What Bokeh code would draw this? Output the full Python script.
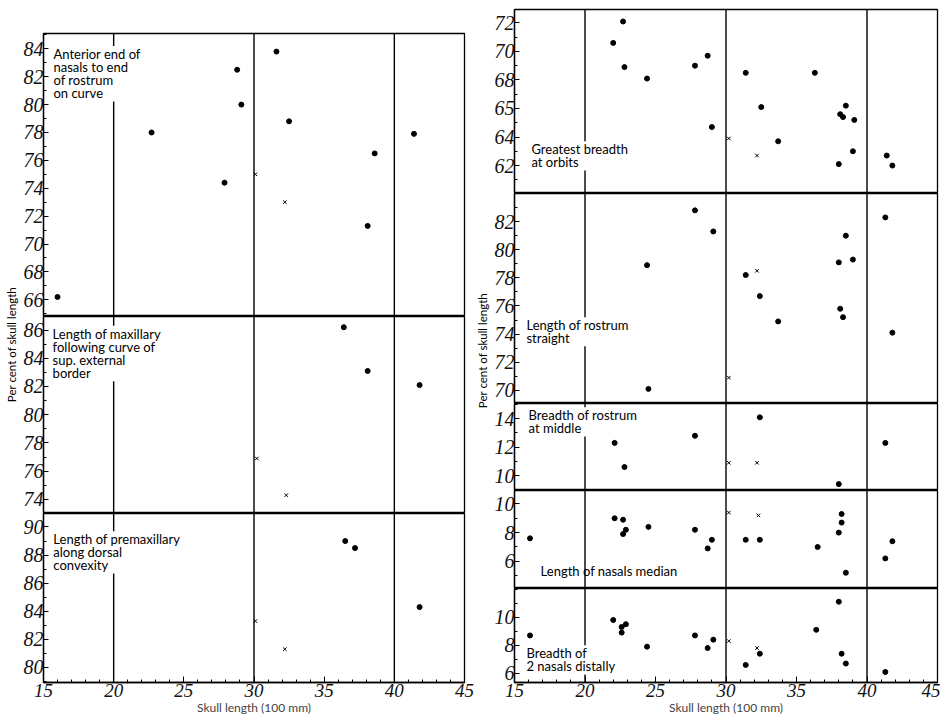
import math
from bokeh.plotting import figure
from bokeh.models import Range1d, FixedTicker, Span, Label
from bokeh.layouts import row, column
from bokeh.embed import file_html
from bokeh.resources import INLINE

# ---------------- data ----------------
L1_x = [16.0, 22.7, 27.9, 28.8, 29.1, 31.6, 32.5, 38.6, 38.1, 41.4]
L1_y = [66.2, 78.0, 74.4, 82.5, 80.0, 83.8, 78.8, 76.5, 71.3, 77.9]
L1_cx = [30.1, 32.2]
L1_cy = [75.0, 73.0]

L2_x = [36.4, 38.1, 41.8]
L2_y = [86.2, 83.1, 82.1]
L2_cx = [30.2, 32.3]
L2_cy = [76.9, 74.3]

L3_x = [36.5, 37.2, 41.8]
L3_y = [89.0, 88.5, 84.3]
L3_cx = [30.1, 32.2]
L3_cy = [83.3, 81.3]

R1_x = [22.0, 22.7, 22.8, 24.4, 27.8, 28.7, 29.0, 31.4, 32.5, 33.7, 36.3,
        38.1, 38.3, 38.5, 39.1, 38.0, 39.0, 41.4, 41.8]
R1_y = [70.6, 72.1, 68.9, 68.1, 69.0, 69.7, 64.7, 68.5, 66.1, 63.7, 68.5,
        65.6, 65.4, 66.2, 65.2, 62.1, 63.0, 62.7, 62.0]
R1_cx = [30.2, 32.2]
R1_cy = [63.9, 62.7]

R2_x = [27.8, 29.1, 24.4, 31.4, 32.4, 33.7, 38.0, 38.5, 39.0, 38.1, 38.3, 41.3, 41.8, 24.5]
R2_y = [82.8, 81.3, 78.9, 78.2, 76.7, 74.9, 79.1, 81.0, 79.3, 75.8, 75.2, 82.3, 74.1, 70.1]
R2_cx = [32.2, 30.2]
R2_cy = [78.5, 70.9]

R3_x = [22.1, 22.8, 27.8, 32.4, 38.0, 41.3]
R3_y = [12.3, 10.6, 12.8, 14.1, 9.4, 12.3]
R3_cx = [30.2, 32.2]
R3_cy = [10.9, 10.9]

R4_x = [16.1, 22.1, 22.7, 22.9, 22.7, 24.5, 27.8, 29.0, 28.7, 31.4, 32.4,
        36.5, 38.2, 38.2, 38.0, 38.5, 41.8, 41.3]
R4_y = [7.6, 9.0, 8.9, 8.2, 7.9, 8.4, 8.2, 7.5, 6.9, 7.5, 7.5,
        7.0, 9.3, 8.7, 8.0, 5.2, 7.4, 6.2]
R4_cx = [30.2, 32.3]
R4_cy = [9.4, 9.2]

R5_x = [16.1, 22.0, 22.6, 22.6, 22.9, 24.4, 27.8, 28.7, 29.1, 31.4, 32.4,
        36.4, 38.0, 38.2, 38.5, 41.3]
R5_y = [8.7, 9.8, 9.3, 8.9, 9.5, 7.9, 8.7, 7.8, 8.4, 6.6, 7.4,
        9.1, 11.1, 7.4, 6.7, 6.1]
R5_cx = [30.2, 32.2]
R5_cy = [8.3, 7.8]

x_ticks = [15, 20, 25, 30, 35, 40, 45]
x_minor = list(range(15, 46))
divisions = [20, 30, 40]

L1_ticks = [66, 68, 70, 72, 74, 76, 78, 80, 82, 84]
L2_ticks = [74, 76, 78, 80, 82, 84, 86]
L3_ticks = [80, 82, 84, 86, 88, 90]
R1_ticks = [62, 64, 66, 68, 70, 72]
R1_labels = {66: "65"}
R2_ticks = [70, 72, 74, 76, 78, 80, 82]
R3_ticks = [10, 12, 14]
R4_ticks = [6, 8, 10]
R5_ticks = [6, 8, 10]

ylabel = "Per cent of skull length"
xlabel = "Skull length (100 mm)"

L1_text = "Anterior end of\nnasals to end\nof rostrum\non curve"
L2_text = "Length of maxillary\nfollowing curve of\n sup. external\nborder"
L3_text = "Length of premaxillary\nalong dorsal\nconvexity"
R1_text = "Greatest breadth\nat orbits"
R2_text = "Length of rostrum\nstraight"
R3_text = "Breadth of rostrum\nat middle"
R4_text = "Length of nasals median"
R5_text = "Breadth of\n2 nasals distally"

TICK_FONT = "Liberation Serif"
TEXT_FONT = "Lato"


def panel(xr, yr, width, height, ticks, mbl, mbr, mbt=0, mbb=0,
          xaxis=False, overrides=None):
    p = figure(width=width, height=height, x_range=xr,
               y_range=Range1d(yr[0], yr[1]), toolbar_location=None,
               output_backend="svg",
               min_border_left=mbl, min_border_right=mbr,
               min_border_top=mbt, min_border_bottom=mbb,
               x_axis_location="below" if xaxis else None)
    p.grid.visible = False
    p.background_fill_color = "white"
    p.border_fill_color = "white"
    p.outline_line_color = "black"
    p.outline_line_width = 1.3
    lo, hi = math.floor(yr[0]), math.ceil(yr[1])
    minor = [v for v in range(lo, hi + 1) if yr[0] < v < yr[1]]
    ax = p.yaxis[0]
    ax.ticker = FixedTicker(ticks=ticks, minor_ticks=minor)
    ax.major_tick_in = 5
    ax.major_tick_out = 0
    ax.minor_tick_in = 3
    ax.minor_tick_out = 0
    ax.axis_line_width = 1.3
    ax.major_tick_line_width = 1.2
    ax.major_label_standoff = 0
    ax.major_label_text_font = TICK_FONT
    ax.major_label_text_font_style = "italic"
    ax.major_label_text_font_size = "20px"
    ax.major_label_text_color = "#111111"
    if overrides:
        ax.major_label_overrides = overrides
    if xaxis:
        xa = p.xaxis[0]
        xa.ticker = FixedTicker(ticks=x_ticks, minor_ticks=x_minor)
        xa.major_tick_in = 6
        xa.major_tick_out = 0
        xa.minor_tick_in = 3
        xa.minor_tick_out = 0
        xa.axis_line_width = 1.3
        xa.major_label_standoff = 1
        xa.major_label_text_font = TICK_FONT
        xa.major_label_text_font_style = "italic"
        xa.major_label_text_font_size = "19px"
        xa.major_label_text_color = "#111111"
        xa.axis_label = xlabel
        xa.axis_label_text_font = TEXT_FONT
        xa.axis_label_text_font_style = "normal"
        xa.axis_label_text_font_size = "12px"
        xa.axis_label_standoff = 0
    for d in divisions:
        p.add_layout(Span(location=d, dimension="height",
                          line_color="black", line_width=1.4))
    return p


def add_points(p, x, y, cx, cy):
    p.scatter(x, y, size=5, marker="circle", color="black")
    p.scatter(cx, cy, size=5, marker="x", line_color="black", line_width=1)


def add_text(p, x, y, text, bg=True):
    lab = Label(x=x, y=y, text=text, text_align="left", text_baseline="top",
                text_font=TEXT_FONT, text_font_size="13px",
                text_color="black", text_line_height=0.82,
                background_fill_color="white" if bg else None)
    p.add_layout(lab)


xL = Range1d(15, 45)
xR = Range1d(15, 45)

LW, LBL, LBR = 454, 23, 10
RW, RBL, RBR = 450, 24, 3

L1 = panel(xL, (64.8, 85.1), LW, 316, L1_ticks, LBL, LBR, mbt=33)
add_points(L1, L1_x, L1_y, L1_cx, L1_cy)
add_text(L1, 15.71, 84.2, L1_text)

L2 = panel(xL, (73.0, 86.96), LW, 197, L2_ticks, LBL, LBR)
add_points(L2, L2_x, L2_y, L2_cx, L2_cy)
add_text(L2, 15.65, 86.3, L2_text)

L3 = panel(xL, (78.93, 90.96), LW, 207, L3_ticks, LBL, LBR, mbb=38, xaxis=True)
add_points(L3, L3_x, L3_y, L3_cx, L3_cy)
add_text(L3, 15.7, 89.7, L3_text)

R1 = panel(xR, (60.04, 72.94), RW, 193, R1_ticks, RBL, RBR, mbt=9,
           overrides=R1_labels)
add_points(R1, R1_x, R1_y, R1_cx, R1_cy)
add_text(R1, 16.2, 63.7, R1_text)

R2 = panel(xR, (69.06, 84.0), RW, 210, R2_ticks, RBL, RBR)
add_points(R2, R2_x, R2_y, R2_cx, R2_cy)
add_text(R2, 15.85, 75.2, R2_text)

R3 = panel(xR, (8.95, 15.07), RW, 87, R3_ticks, RBL, RBR)
add_points(R3, R3_x, R3_y, R3_cx, R3_cy)
add_text(R3, 16.0, 14.8, R3_text)

R4 = panel(xR, (4.1, 10.94), RW, 98, R4_ticks, RBL, RBR)
add_points(R4, R4_x, R4_y, R4_cx, R4_cy)
add_text(R4, 16.85, 5.85, R4_text, bg=False)

R5 = panel(xR, (5.35, 12.04), RW, 132, R5_ticks, RBL, RBR, mbb=38, xaxis=True)
add_points(R5, R5_x, R5_y, R5_cx, R5_cy)
add_text(R5, 15.85, 8.0, R5_text)


def label_fig(width, xpos, ypos):
    f = figure(width=width, height=720, x_range=Range1d(0, width),
               y_range=Range1d(720, 0), toolbar_location=None,
               output_backend="svg", min_border=0, x_axis_location=None,
               y_axis_location=None)
    f.grid.visible = False
    f.outline_line_color = None
    f.background_fill_color = "white"
    f.border_fill_color = "white"
    f.add_layout(Label(x=xpos, y=ypos, text=ylabel, angle=math.pi / 2,
                       text_align="center", text_baseline="middle",
                       text_font=TEXT_FONT, text_font_size="11.5px",
                       text_color="black"))
    return f


labL = label_fig(20, 11, 344)
labR = label_fig(16, 8, 350)

p = row(labL, column(L1, L2, L3), labR, column(R1, R2, R3, R4, R5))

open("out.html", "w").write(file_html(p, INLINE))
